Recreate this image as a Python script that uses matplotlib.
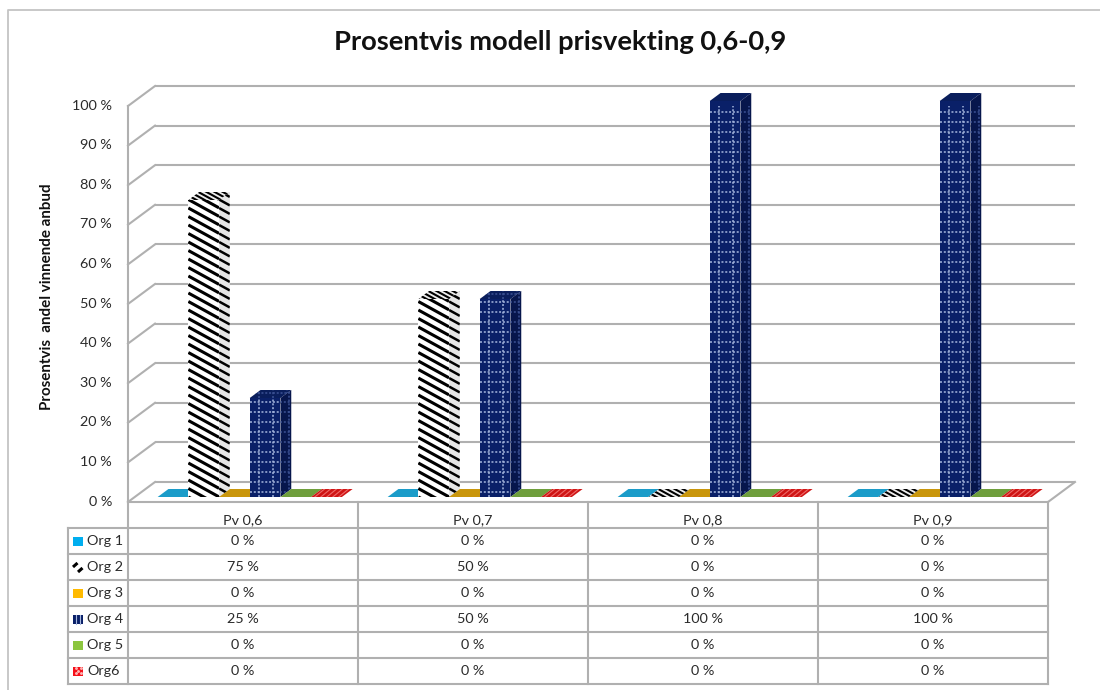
import numpy as np
import matplotlib
matplotlib.use("Agg")
import matplotlib.pyplot as plt
from matplotlib.lines import Line2D
from matplotlib.patches import Polygon, Rectangle

categories = ["Pv 0,6", "Pv 0,7", "Pv 0,8", "Pv 0,9"]
orgs = ["Org 1", "Org 2", "Org 3", "Org 4", "Org 5", "Org6"]
org1 = [0, 0, 0, 0]
org2 = [75, 50, 0, 0]
org3 = [0, 0, 0, 0]
org4 = [25, 50, 100, 100]
org5 = [0, 0, 0, 0]
org6 = [0, 0, 0, 0]
ticks = list(range(0, 101, 10))
title = "Prosentvis modell prisvekting 0,6-0,9"
ylabel = "Prosentvis  andel vinnende anbud"

series = [org1, org2, org3, org4, org5, org6]
floor_cols = ["#1b9cc9", "#ffffff", "#c9960c", "#0a2068", "#6f9f3c", "#cf1414"]
key_cols = ["#00aeef", "#ffffff", "#ffba00", "#0a2068", "#8cc63f", "#f5101a"]
grid = "#b0b0b0"
txt = "#2a2a2a"
fs = 10.4

plt.rcParams["font.family"] = ["Lato", "DejaVu Sans"]
W, H = 1100, 690
fig = plt.figure(figsize=(W / 100, H / 100), dpi=100)

# outer frame: left and top edges only
fig.add_artist(Line2D([8 / W, 8 / W, 1], [0, 1 - 10 / H, 1 - 10 / H], color="#c4c4c4", lw=1.3))

# front plane of the 3d box, 230 px per category and 3.96 px per percent
L, R, B, T = 128, 1048, 502, 106
ax = fig.add_axes([L / W, 1 - B / H, (R - L) / W, (B - T) / H])
ax.set_xlim(0, 4)
ax.set_ylim(0, 100)
ax.axis("off")
px = 4 / (R - L)
py = 100 / (B - T)
DX, DY = 27 * px, 20 * py


def stripes(patch, x0, x1, y0, y1, lw=2.2, step=8.5, col="black"):
    # diagonal bands, clipped to one face of a bar
    h = step * py
    slope = -0.55 * py / px
    xs = np.array([x0, x1])
    for c in np.arange(y0 - h * 2, y1 + abs(slope) * (x1 - x0) + h, h):
        ln, = ax.plot(xs, c + slope * (xs - x0), color=col, lw=lw,
                      solid_capstyle="butt", zorder=patch.get_zorder() + 0.1)
        ln.set_clip_path(patch)


def dotted_grid(patch, x0, x1, y0, y1, col="#a6b7de", sx=14):
    # pale dashed lattice of the navy bars
    for xv in np.arange(x0 + 9 * px, x1, sx * px):
        ln, = ax.plot([xv, xv], [y0, y1], color=col, lw=1.1, ls=(0, (1.3, 1.2)),
                      zorder=patch.get_zorder() + 0.1)
        ln.set_clip_path(patch)
    for yv in np.arange(y0 + 5 * py, y1, 10 * py):
        ln, = ax.plot([x0, x1], [yv, yv], color=col, lw=1.1, ls=(0, (1.3, 1.2)),
                      zorder=patch.get_zorder() + 0.1)
        ln.set_clip_path(patch)


def face(pts, col, z):
    p = Polygon(pts, closed=True, facecolor=col, edgecolor="none", clip_on=False, zorder=z)
    ax.add_patch(p)
    return p


# gridlines, left wall and floor edge
for t in ticks:
    ax.plot([DX, 4 + DX], [t + DY, t + DY], color=grid, lw=1.5, clip_on=False, zorder=1.2,
            solid_capstyle="butt")
    ax.plot([0, DX], [t, t + DY], color=grid, lw=1.5, clip_on=False, zorder=1.2)
    ax.text(-16 * px, t + 0.1, f"{t} %", ha="right", va="center", fontsize=fs, color=txt)
ax.plot([0, 0], [0, 100], color=grid, lw=1.5, clip_on=False, zorder=1.2)
ax.plot([4, 4 + DX], [0, DY], color=grid, lw=1.5, clip_on=False, zorder=1.2)

# bars: front face, side face and top, set back a little into the box
front, back = 0.25, 0.65
bw = 30.7 * px
gap = (1 - 6 * bw) / 2
ox = (back - front) * DX
oy = (back - front) * DY
for i in range(len(categories)):
    for j, vals in enumerate(series):
        v = vals[i]
        x0 = i + gap + j * bw + front * DX
        x1 = x0 + bw
        y0 = front * DY
        y1 = y0 + v
        z = 3 + i + j * 0.05
        top = [(x0, y1), (x1, y1), (x1 + ox, y1 + oy), (x0 + ox, y1 + oy)]
        front_pts = [(x0, y0), (x1, y0), (x1, y1), (x0, y1)]
        side_pts = [(x1, y0), (x1 + ox, y0 + oy), (x1 + ox, y1 + oy), (x1, y1)]
        if j == 1:
            t = face(top, "#eeeeee", z)
            stripes(t, x0, x1 + ox, y1, y1 + oy, lw=1.5, step=4.5)
            if v > 0:
                f = face(front_pts, "white", z)
                s = face(side_pts, "#e6e6e6", z)
                stripes(f, x0, x1, y0, y1)
                stripes(s, x1, x1 + ox, y0, y1 + oy, lw=1.8)
        elif j == 3:
            t = face(top, "#0a1e5c", z)
            dotted_grid(t, x0, x1 + ox, y1, y1 + oy, col="#3c5294")
            if v > 0:
                f = face(front_pts, "#0a2068", z)
                s = face(side_pts, "#07164c", z)
                dotted_grid(f, x0, x1, y0, y1)
                dotted_grid(s, x1, x1 + ox, y0, y1 + oy, col="#3c5294", sx=5)
        else:
            t = face(top, floor_cols[j], z)
            if j == 5:
                for k in np.linspace(0.12, 0.9, 5):
                    ln, = ax.plot([x0 + k * bw, x0 + k * bw + ox * 0.9], [y0, y0 + oy],
                                  color="#ee6a6a", lw=0.8, zorder=z + 0.1)
                    ln.set_clip_path(t)

# data table under the plot
row_h = 26.0 * py
head_h = 26.0 * py
table_bottom = -(head_h + 6 * row_h)
lab_x = -60 * px
for k in range(5):
    ax.plot([k, k], [0, table_bottom], color=grid, lw=1.5, clip_on=False, zorder=2)
ax.plot([lab_x, lab_x], [-head_h, table_bottom], color=grid, lw=1.5, clip_on=False, zorder=2)
ax.plot([0, 4], [0, 0], color=grid, lw=1.5, clip_on=False, zorder=2)
for r in range(7):
    yy = -(head_h + r * row_h)
    ax.plot([lab_x, 4], [yy, yy], color=grid, lw=1.5, clip_on=False, zorder=2)
for i, c in enumerate(categories):
    ax.text(i + 0.5, -head_h * 0.68, c, ha="center", va="center", fontsize=fs, color=txt)
for j, vals in enumerate(series):
    yc = -(head_h + (j + 0.5) * row_h)
    for i, v in enumerate(vals):
        ax.text(i + 0.5, yc, f"{v} %", ha="center", va="center", fontsize=fs, color=txt)
    ax.text(lab_x + 19 * px, yc, orgs[j], ha="left", va="center", fontsize=fs, color=txt)
    kx0, kx1 = lab_x + 5 * px, lab_x + 15 * px
    ky0, ky1 = yc - 4.5 * py, yc + 4.5 * py
    key = Rectangle((kx0, ky0), kx1 - kx0, ky1 - ky0, facecolor=key_cols[j],
                    edgecolor="none", clip_on=False, zorder=3)
    ax.add_patch(key)
    if j == 1:
        # two short strokes rising to the right
        for q in (2.5, 7.5):
            ax.plot([kx0 + (q - 2.5) * px, kx0 + (q + 2) * px],
                    [yc - (q - 5 + 2.5) * py, yc - (q - 5 - 1.5) * py],
                    color="black", lw=2.2, solid_capstyle="butt", clip_on=False, zorder=3.1)
    if j == 3:
        for q in (3.3, 6.7):
            ax.plot([kx0 + q * px] * 2, [ky0, ky1], color="#a6b7de",
                    lw=0.8, clip_on=False, zorder=3.1)
    if j == 5:
        for q, w in [(2.5, 2.5), (7.5, 2.5), (5, 5), (2.5, 7.5), (7.5, 7.5)]:
            ax.plot(kx0 + q * px, ky0 + w * py, ".", color="#ffb0b0", ms=2.2,
                    clip_on=False, zorder=3.1)

fig.text(560 / W, 1 - 42.5 / H, title, ha="center", va="center", fontsize=19.7, fontweight="bold",
         color="#111111")
fig.text(47 / W, 1 - 297 / H, ylabel, rotation=90, ha="center", va="center", fontsize=10.9,
         fontweight="bold", color="#111111")

fig.savefig("out.png", dpi=100, facecolor="white")
